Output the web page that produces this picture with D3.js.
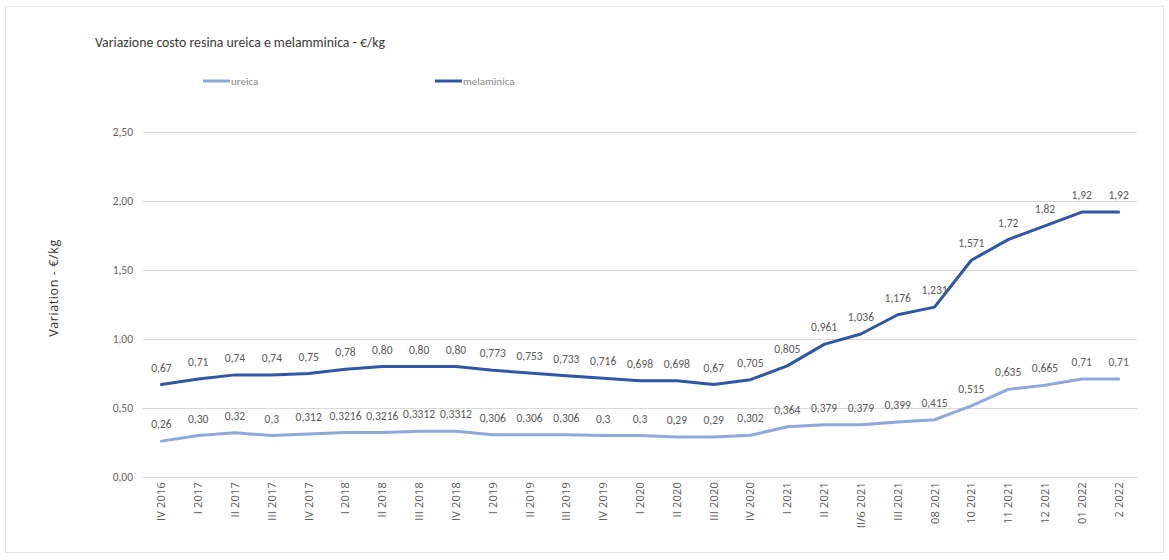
<!DOCTYPE html>
<html><head><meta charset="utf-8">
<script src="https://cdn.jsdelivr.net/npm/d3@7"></script>
<style>
body{margin:0;background:#fff;}
svg{display:block;}
</style></head>
<body>
<svg id="chart" width="1169" height="560"></svg>
<script>
const categories = ["IV 2016","I 2017","II 2017","III 2017","IV 2017","I 2018","II 2018","III 2018","IV 2018","I 2019","II 2019","III 2019","IV 2019","I 2020","II 2020","III 2020","IV 2020","I 2021","II 2021","II/6 2021","III 2021","08 2021","10 2021","11 2021","12 2021","01 2022","2 2022"];
const ureica = [0.26,0.30,0.32,0.3,0.312,0.3216,0.3216,0.3312,0.3312,0.306,0.306,0.306,0.3,0.3,0.29,0.29,0.302,0.364,0.379,0.379,0.399,0.415,0.515,0.635,0.665,0.71,0.71];
const ureicaLabels = ["0,26","0,30","0,32","0,3","0,312","0,3216","0,3216","0,3312","0,3312","0,306","0,306","0,306","0,3","0,3","0,29","0,29","0,302","0,364","0,379","0,379","0,399","0,415","0,515","0,635","0,665","0,71","0,71"];
const melaminica = [0.67,0.71,0.74,0.74,0.75,0.78,0.80,0.80,0.80,0.773,0.753,0.733,0.716,0.698,0.698,0.67,0.705,0.805,0.961,1.036,1.176,1.231,1.571,1.72,1.82,1.92,1.92];
const melaminicaLabels = ["0,67","0,71","0,74","0,74","0,75","0,78","0,80","0,80","0,80","0,773","0,753","0,733","0,716","0,698","0,698","0,67","0,705","0,805","0,961","1,036","1,176","1,231","1,571","1,72","1,82","1,92","1,92"];
const yTicks = [0,0.5,1,1.5,2,2.5];
const yTickLabels = ["0,00","0,50","1,00","1,50","2,00","2,50"];

const svg = d3.select("#chart");
const font = "Carlito, 'Liberation Sans Narrow', 'Open Sans', sans-serif";
const pLeft = 143, pRight = 1137, pTop = 132, pBottom = 477;
const x = d3.scaleBand().domain(categories).range([pLeft, pRight]);
const y = d3.scaleLinear().domain([0, 2.5]).range([pBottom, pTop]);
const cx = c => x(c) + x.bandwidth()/2;

// outer border
svg.append("rect").attr("x",5.5).attr("y",6.5).attr("width",1158).attr("height",546)
  .attr("fill","#fff").attr("stroke","#e6e6e6");

// title
svg.append("text").attr("x",95).attr("y",47).text("Variazione costo resina ureica e melamminica - €/kg")
  .attr("font-family",font).attr("font-size",13.8).attr("fill","#3a3a3a");

// legend
const series = [
  {name:"ureica", vals:ureica, labels:ureicaLabels, color:"#8FA9DA", lx:203},
  {name:"melaminica", vals:melaminica, labels:melaminicaLabels, color:"#3256A6", lx:435}
];
series.forEach(s=>{
  svg.append("line").attr("x1",s.lx).attr("x2",s.lx+27).attr("y1",81).attr("y2",81)
    .attr("stroke",s.color).attr("stroke-width",3);
  svg.append("text").attr("x",s.lx+28).attr("y",85).text(s.name)
    .attr("font-family",font).attr("font-size",11).attr("fill","#8a8a8a");
});

// grid + y axis
const yAxis = d3.axisLeft(y).tickValues(yTicks).tickSize(-(pRight-pLeft)).tickPadding(10)
  .tickFormat((d,i)=>yTickLabels[i]);
const gy = svg.append("g").attr("transform",`translate(${pLeft},0)`).call(yAxis);
gy.select(".domain").remove();
gy.selectAll(".tick line").attr("stroke","#d9d9d9").attr("stroke-width",1);
gy.selectAll(".tick text").attr("font-family",font).attr("font-size",11.5).attr("fill","#666");

// y title
svg.append("text").attr("transform","translate(58,288) rotate(-90)").attr("text-anchor","middle")
  .text("Variation - €/kg").attr("font-family","'Open Sans', sans-serif").attr("font-size",12.5)
  .attr("letter-spacing",0.6).attr("fill","#333");

// x axis labels
const xAxis = d3.axisBottom(x).tickSize(0).tickPadding(0);
const gx = svg.append("g").attr("transform",`translate(0,${pBottom})`).call(xAxis);
gx.select(".domain").remove();
gx.selectAll(".tick text")
  .attr("font-family","'Open Sans', sans-serif").attr("font-size",11).attr("fill","#595959")
  .attr("letter-spacing",0.2)
  .attr("text-anchor","end").attr("dy",null).attr("y",0)
  .attr("transform","translate(4,5) rotate(-90)");

// lines
const line = d3.line().x((d,i)=>cx(categories[i])).y(d=>y(d));
series.forEach(s=>{
  svg.append("path").datum(s.vals).attr("d",line).attr("fill","none")
    .attr("stroke",s.color).attr("stroke-width",3).attr("stroke-linejoin","round").attr("stroke-linecap","round");
  svg.append("g").selectAll("text").data(s.vals).join("text")
    .attr("x",(d,i)=>cx(categories[i])).attr("y",d=>y(d)-13)
    .attr("text-anchor","middle").text((d,i)=>s.labels[i])
    .attr("font-family",font).attr("font-size",11.5).attr("fill","#595959");
});
</script>
</body></html>
